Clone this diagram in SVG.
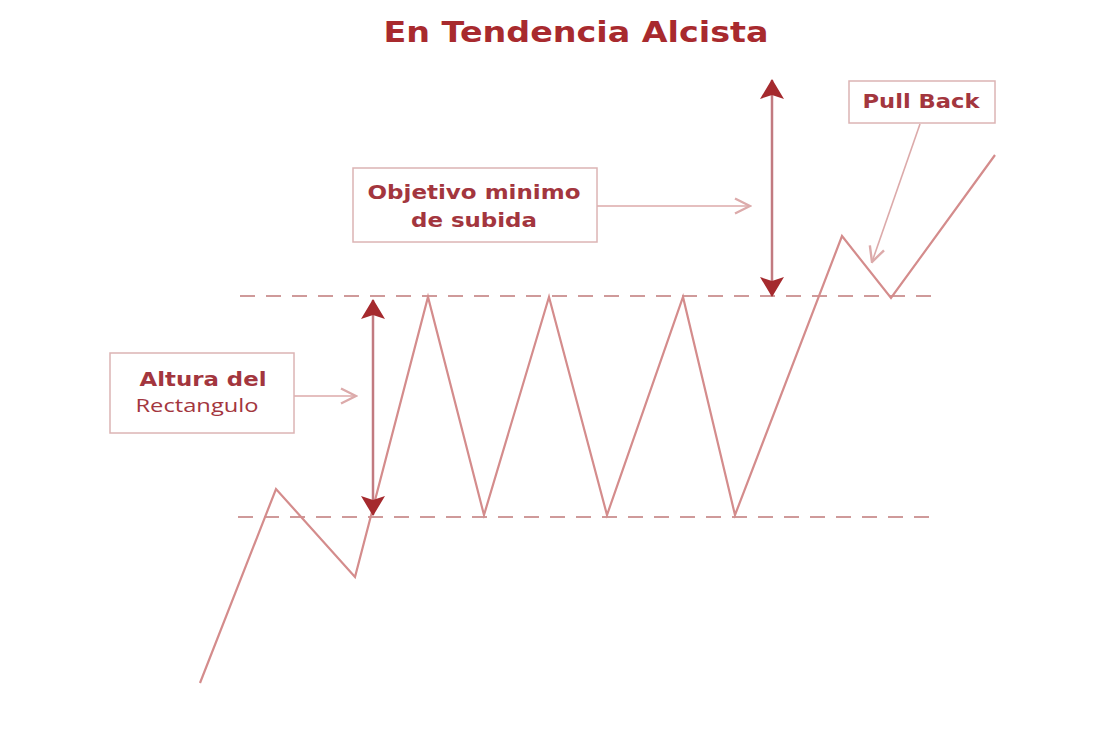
<svg xmlns="http://www.w3.org/2000/svg" width="1115" height="732" viewBox="0 0 1115 732">
<style>
.title{font-family:"DejaVu Sans","Liberation Sans",sans-serif;font-weight:bold;font-size:28px;fill:#a82a2e}
.box{fill:#fff;stroke:#dcb4b4;stroke-width:1.5}
.lbl{font-family:"DejaVu Sans","Liberation Sans",sans-serif;font-weight:bold;font-size:19px;fill:#a3363e}
.lbl2{font-family:"Open Sans","Liberation Sans",sans-serif;font-size:19px;fill:#a3363e}
.dash{stroke:#c07a7a;stroke-width:1.5;stroke-dasharray:15 11;fill:none}
.price{stroke:#d48c8c;stroke-width:2.2;fill:none;stroke-linejoin:miter}
.pointer{stroke:#dcaaaa;stroke-width:1.6;fill:none}
.measure{stroke:#c27a80;stroke-width:2.5;fill:none}
</style>
<defs>
<marker id="chev" viewBox="0 0 12 12" refX="11" refY="6" markerWidth="18" markerHeight="18" markerUnits="userSpaceOnUse" orient="auto">
<path d="M1,1 L11,6 L1,11" fill="none" stroke="#dcaaaa" stroke-width="1.6"/>
</marker>
<marker id="solid" viewBox="0 0 20 24" refX="19" refY="12" markerWidth="20" markerHeight="24" markerUnits="userSpaceOnUse" orient="auto-start-reverse">
<path d="M0,0 L20,12 L0,24 L4,12 z" fill="#a52a2e"/>
</marker>
</defs>
<rect width="1115" height="732" fill="#fff"/>
<text class="title" x="576" y="42" text-anchor="middle" textLength="385" lengthAdjust="spacingAndGlyphs">En Tendencia Alcista</text>
<g id="support-resistance">
<line class="dash" x1="240" y1="296" x2="935" y2="296"/>
<line class="dash" x1="238" y1="517" x2="935" y2="517"/>
</g>
<g id="price">
<polyline class="price" points="200,683 276,489 355,577 428,297 484,515 549,297 607,515 683,297 735,515 842,236 891,298 995,155"/>
</g>
<g id="connectors">
<line class="pointer" x1="597" y1="206" x2="750" y2="206" marker-end="url(#chev)"/>
<line class="pointer" x1="294" y1="396" x2="356" y2="396" marker-end="url(#chev)"/>
<line class="pointer" x1="920" y1="124" x2="872" y2="262" marker-end="url(#chev)"/>
<line class="measure" x1="373" y1="300" x2="373" y2="515" marker-start="url(#solid)" marker-end="url(#solid)"/>
<line class="measure" x1="772" y1="80" x2="772" y2="296" marker-start="url(#solid)" marker-end="url(#solid)"/>
</g>
<g id="objetivo">
<rect class="box" x="353" y="168" width="244" height="74"/>
<text class="lbl" x="474" y="199" text-anchor="middle" textLength="213" lengthAdjust="spacingAndGlyphs">Objetivo minimo</text>
<text class="lbl" x="474" y="227" text-anchor="middle" textLength="126" lengthAdjust="spacingAndGlyphs">de subida</text>
</g>
<g id="pullback">
<rect class="box" x="849" y="81" width="146" height="42"/>
<text class="lbl" x="921" y="108" text-anchor="middle" textLength="117" lengthAdjust="spacingAndGlyphs">Pull Back</text>
</g>
<g id="altura">
<rect class="box" x="110" y="353" width="184" height="80"/>
<text class="lbl" x="203" y="386" text-anchor="middle" textLength="127" lengthAdjust="spacingAndGlyphs">Altura del</text>
<text class="lbl2" x="197" y="412" text-anchor="middle" textLength="123" lengthAdjust="spacingAndGlyphs">Rectangulo</text>
</g>
</svg>
